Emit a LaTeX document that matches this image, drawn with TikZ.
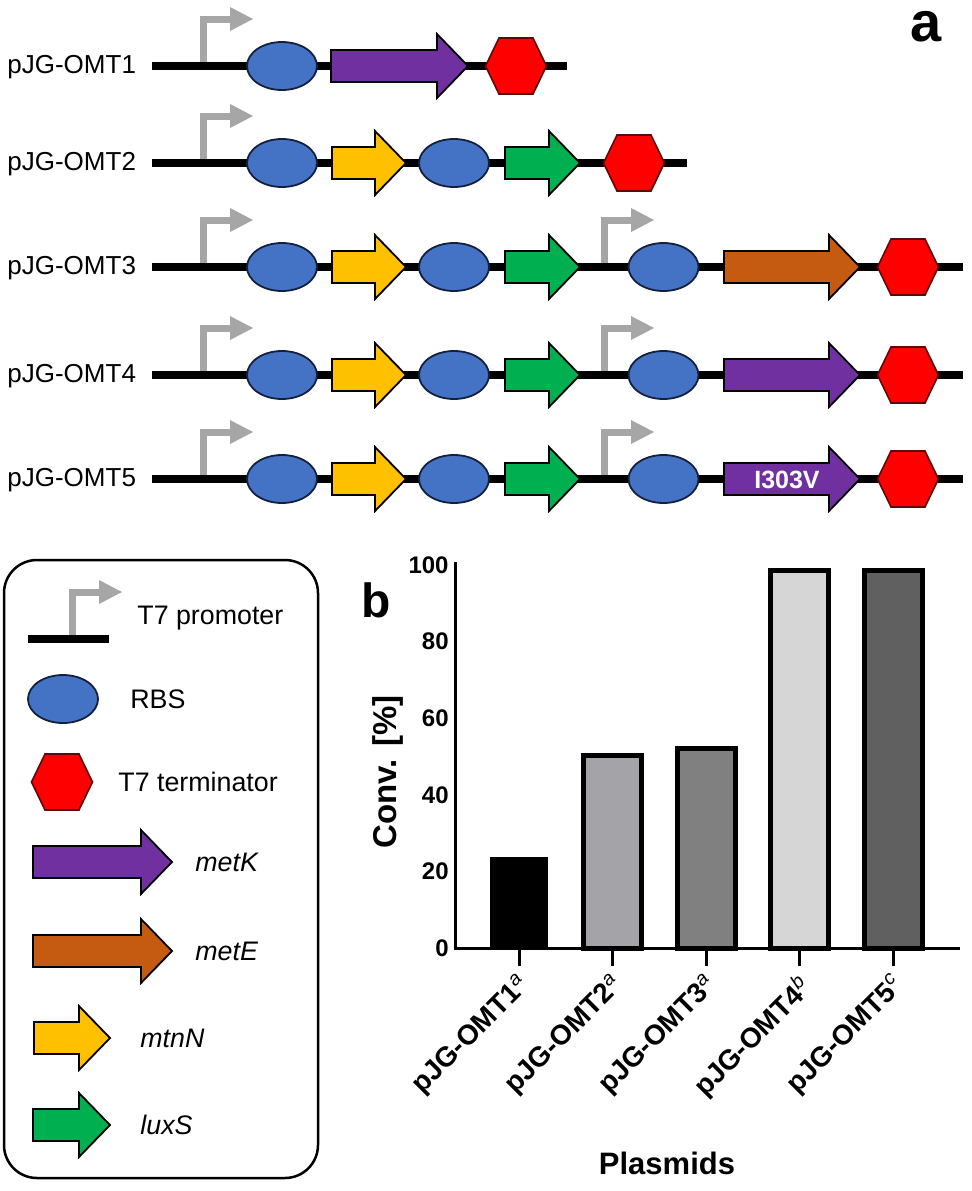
\documentclass[tikz,border=0pt]{standalone}
\usepackage{fontspec}
\setmainfont{Liberation Sans}
\definecolor{rbsblue}{HTML}{4472C4}
\definecolor{genepurple}{HTML}{7030A0}
\definecolor{genebrown}{HTML}{C55A11}
\definecolor{geneyellow}{HTML}{FFC000}
\definecolor{genegreen}{HTML}{00B050}
\definecolor{termred}{HTML}{FF0000}
\definecolor{termedge}{HTML}{5A0A0A}
\definecolor{promgray}{HTML}{A6A6A6}
\definecolor{rbsedge}{HTML}{14213D}
\definecolor{bartwo}{HTML}{A3A3A8}
\definecolor{barthree}{HTML}{808080}
\definecolor{barfour}{HTML}{D6D6D6}
\definecolor{barfive}{HTML}{606060}
\newcommand\genearrow[4]{%
  \draw[genebox, fill=#1] (#2,#4-16) -- (#3-31,#4-16) -- (#3-31,#4-32) -- (#3,#4) -- (#3-31,#4+32) -- (#3-31,#4+16) -- (#2,#4+16) -- cycle;}
\newcommand\rbsshape[2]{%
  \draw[rbsbox] (#1,#2) ellipse [x radius=35, y radius=24];}
\newcommand\termshape[2]{%
  \draw[termbox] (#1-30.5,#2) -- (#1-17,#2-28) -- (#1+17,#2-28) -- (#1+30.5,#2) -- (#1+17,#2+28) -- (#1-17,#2+28) -- cycle;}
\newcommand\promshape[2]{%
  \draw[promline] (#1,#2) -- (#1,#2-47);
  \draw[promline] (#1-3.5,#2-47) -- (#1+27,#2-47);
  \fill[promgray] (#1+27,#2-59) -- (#1+50,#2-47) -- (#1+27,#2-35) -- cycle;}
\begin{document}
\begin{tikzpicture}[x=0.5pt,y=-0.5pt,
  genebox/.style={draw=black, line width=0.9pt, line join=miter},
  rbsbox/.style={draw=rbsedge, line width=0.9pt, fill=rbsblue},
  termbox/.style={draw=termedge, line width=0.8pt, fill=termred},
  promline/.style={draw=promgray, line width=3.5pt},
  backbone/.style={draw=black, line width=4.3pt},
  rowlabel/.style={anchor=west, inner sep=0pt, font=\fontsize{13pt}{15pt}\selectfont},
  legtext/.style={anchor=west, inner sep=0pt, font=\fontsize{13.4pt}{15pt}\selectfont},
  legital/.style={legtext, font=\fontsize{13.4pt}{15pt}\itshape},
  axisline/.style={draw=black, line width=1.5pt},
  barbox/.style={draw=black, line width=2.5pt},
  ylab/.style={anchor=east, inner sep=0pt, font=\fontsize{12pt}{14pt}\bfseries},
  xlab/.style={anchor=north east, rotate=45, inner sep=0pt, font=\fontsize{14pt}{16pt}\bfseries},
  panel/.style={inner sep=0pt, font=\bfseries}
]
\useasboundingbox (0,0) rectangle (972,1191);

% ---------- panel a: constructs ----------
% row 1
\promshape{203}{66}
\draw[backbone] (152,66) -- (567,66);
\rbsshape{282}{66}
\genearrow{genepurple}{331}{468}{66}
\termshape{516}{66}
\node[rowlabel] (r1) at (7,67) {pJG-OMT1};

% row 2
\promshape{203}{163}
\draw[backbone] (152,163) -- (687,163);
\rbsshape{282}{163}
\genearrow{geneyellow}{332}{406}{163}
\rbsshape{454}{163}
\genearrow{genegreen}{505}{580}{163}
\termshape{634}{163}
\node[rowlabel] (r2) at (7,164) {pJG-OMT2};

% rows 3-5
\foreach \yy/\col/\nm in {267/genebrown/3, 375/genepurple/4, 479/genepurple/5}{
  \promshape{203}{\yy}
  \promshape{604}{\yy}
  \draw[backbone] (152,\yy) -- (963,\yy);
  \rbsshape{282}{\yy}
  \genearrow{geneyellow}{332}{406}{\yy}
  \rbsshape{454}{\yy}
  \genearrow{genegreen}{505}{580}{\yy}
  \rbsshape{663.5}{\yy}
  \genearrow{\col}{724}{860}{\yy}
  \termshape{908}{\yy}
  \node[rowlabel] (r\nm) at (7,\yy+1) {pJG-OMT\nm};
}
\node[inner sep=0pt, text=white, font=\fontsize{12.5pt}{14pt}\bfseries] (mut) at (787,480) {I303V};

\node[panel, font=\fontsize{28pt}{30pt}\bfseries] (pa) at (926,27) {a};

% ---------- legend ----------
\draw[line width=1.25pt, rounded corners=16.5pt] (4,560) rectangle (318,1178);
\promshape{72}{639}
\draw[backbone] (28,639) -- (109,639);
\node[legtext] (lp) at (137,618) {T7 promoter};
\rbsshape{63}{699}
\node[legtext] (lr) at (130,699) {RBS};
\termshape{62}{782}
\node[legtext] (lt) at (118,782) {T7 terminator};
\genearrow{genepurple}{33}{172}{862}
\node[legital] (lk) at (195,862) {metK};
\genearrow{genebrown}{33}{172}{951}
\node[legital] (le) at (195,951) {metE};
\genearrow{geneyellow}{34}{110}{1038}
\node[legital] (ln) at (140,1038) {mtnN};
\genearrow{genegreen}{33}{110}{1125}
\node[legital] (ls) at (140,1125) {luxS};

% ---------- panel b: bar chart ----------
\node[panel, font=\fontsize{24pt}{26pt}\bfseries] (pb) at (376,600) {b};
% bars (centres 519 + 93.5 n, width 58)
\fill[black] (490,948) rectangle (548,857);
\draw[barbox, fill=bartwo] (583.5,948) rectangle (641.5,755.5);
\draw[barbox, fill=barthree] (677,948) rectangle (735,748.5);
\draw[barbox, fill=barfour] (770.5,948) rectangle (828.5,570);
\draw[barbox, fill=barfive] (864,948) rectangle (922,570);
% axes
\draw[axisline] (455,562) -- (455,949.5);
\draw[axisline] (453.5,948.5) -- (960,948.5);
\foreach \i in {0,...,4}{
  \draw[axisline] (519+93.5*\i,948.5) -- (519+93.5*\i,966);
}
\foreach \v in {0,20,...,100}{
  \node[ylab] (y\v) at (449,948-3.83*\v) {\v};
}
\node[xlab] (x1) at (516,971) {pJG-OMT1\textsuperscript{\normalfont\itshape a}};
\node[xlab] (x2) at (609.5,971) {pJG-OMT2\textsuperscript{\normalfont\itshape a}};
\node[xlab] (x3) at (703,971) {pJG-OMT3\textsuperscript{\normalfont\itshape a}};
\node[xlab] (x4) at (796.5,971) {pJG-OMT4\textsuperscript{\normalfont\itshape b}};
\node[xlab] (x5) at (890,971) {pJG-OMT5\textsuperscript{\normalfont\itshape c}};
\node[inner sep=0pt, rotate=90, font=\fontsize{16.5pt}{18pt}\bfseries] (yt) at (388,772) {Conv. [\%]};
\node[inner sep=0pt, font=\fontsize{15.5pt}{17pt}\bfseries] (xt) at (667,1163) {Plasmids};
\end{tikzpicture}
\end{document}
